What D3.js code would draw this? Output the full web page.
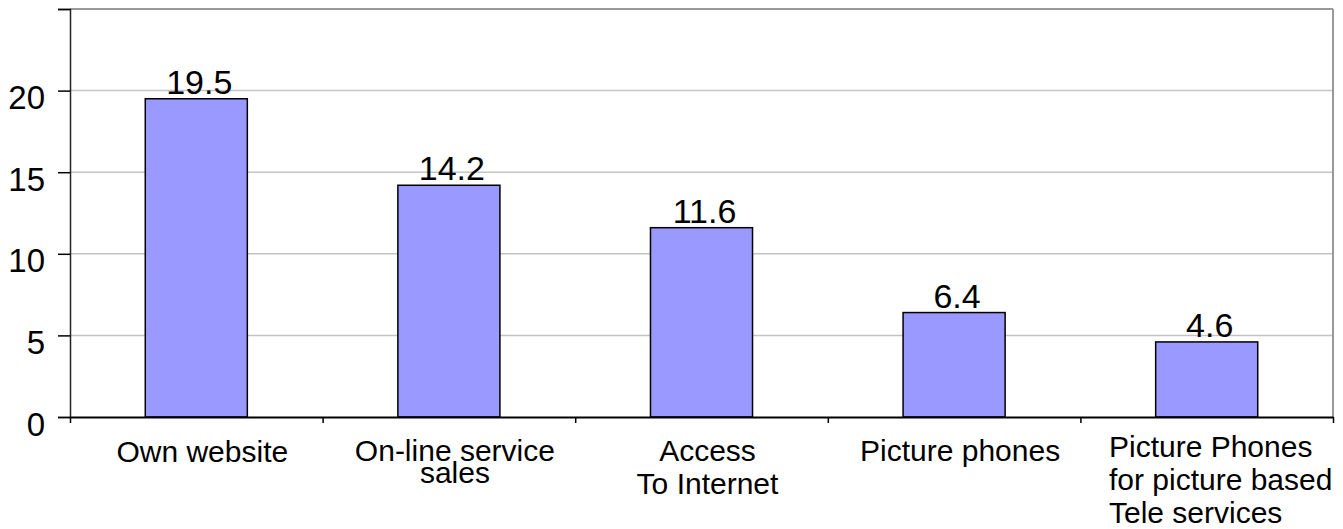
<!DOCTYPE html>
<html>
<head>
<meta charset="utf-8">
<script src="https://cdn.jsdelivr.net/npm/d3@7"></script>
<style>
  html, body { margin: 0; padding: 0; background: #fff; }
  svg { display: block; font-family: "Liberation Sans", Arial, sans-serif; }
</style>
</head>
<body>
<div id="chart"></div>
<script>
// data
const categories = ['Own website', 'On-line service sales', 'Access To Internet', 'Picture phones', 'Picture Phones for picture based Tele services'];
const labelLines = [
    ['Own website'],
    ['On-line service', 'sales'],
    ['Access', 'To Internet'],
    ['Picture phones'],
    ['Picture Phones', 'for picture based', 'Tele services']
];
const values = [19.5, 14.2, 11.6, 6.4, 4.6];
const yTicks = [0, 5, 10, 15, 20, 25];
const yGrid = [5, 10, 15, 20];

// label layout (the original spacing is uneven)
const labelFirstBaseline = [462, 461, 461, 461, 457];
const labelLineGap = [33, 22, 33, 33, 33];
const labelAlign = ['middle', 'middle', 'middle', 'middle', 'start'];

(function() {
    const width = 1343;
    const height = 529;
    const plot = {left: 70, right: 1333, top: 9, bottom: 417};

    const svg = d3.select('#chart')
        .append('svg')
        .attr('width', width)
        .attr('height', height);

    const x = d3.scaleBand()
        .domain(categories)
        .range([plot.left, plot.right])
        .paddingInner(0.596)
        .paddingOuter(0.298);

    const xEdge = d3.scaleLinear()
        .domain([0, categories.length])
        .range([plot.left, plot.right]);

    const y = d3.scaleLinear()
        .domain([0, 25])
        .range([plot.bottom, plot.top]);

    // gridlines
    svg.append('g')
        .selectAll('line')
        .data(yGrid)
        .enter()
        .append('line')
        .attr('x1', plot.left)
        .attr('x2', plot.right)
        .attr('y1', d => y(d))
        .attr('y2', d => y(d))
        .attr('stroke', '#c4c4c4')
        .attr('stroke-width', 1.5);

    // top and right frame
    svg.append('line')
        .attr('x1', plot.left).attr('x2', plot.right)
        .attr('y1', y(25)).attr('y2', y(25))
        .attr('stroke', '#999').attr('stroke-width', 2);
    svg.append('line')
        .attr('x1', plot.right).attr('x2', plot.right)
        .attr('y1', y(25)).attr('y2', y(0))
        .attr('stroke', '#999').attr('stroke-width', 2);

    // bars
    svg.selectAll('.bar')
        .data(values)
        .enter()
        .append('rect')
        .attr('class', 'bar')
        .attr('x', (d, i) => x(categories[i]))
        .attr('y', d => y(d))
        .attr('width', x.bandwidth())
        .attr('height', d => y(0) - y(d))
        .attr('fill', '#9999ff')
        .attr('stroke', '#000')
        .attr('stroke-width', 1.5);

    // value labels
    svg.selectAll('.value')
        .data(values)
        .enter()
        .append('text')
        .attr('class', 'value')
        .attr('x', (d, i) => x(categories[i]) + x.bandwidth() / 2 + 3)
        .attr('y', d => y(d) - 5)
        .attr('text-anchor', 'middle')
        .attr('font-size', '34px')
        .attr('fill', '#000')
        .text(d => d.toFixed(1));

    // y axis
    const yAxis = svg.append('g')
        .attr('transform', `translate(${plot.left},0)`)
        .call(d3.axisLeft(y)
            .tickValues(yTicks)
            .tickSize(12)
            .tickPadding(13)
            .tickFormat(d => d === 25 ? '' : d));
    yAxis.select('.domain').attr('stroke', '#222').attr('stroke-width', 1.5);
    yAxis.selectAll('.tick line').attr('stroke', '#000').attr('stroke-width', 1.5);
    yAxis.selectAll('.tick text')
        .attr('font-size', '33px')
        .attr('font-family', '"Liberation Sans", Arial, sans-serif')
        .attr('fill', '#000')
        .attr('dy', '0.55em');

    // x axis: ticks at category boundaries
    const xAxis = svg.append('g')
        .attr('transform', `translate(0,${plot.bottom})`)
        .call(d3.axisBottom(xEdge)
            .tickValues(d3.range(categories.length + 1))
            .tickSize(6)
            .tickSizeOuter(0)
            .tickFormat(''));
    xAxis.select('.domain').attr('stroke', '#000').attr('stroke-width', 2);
    xAxis.selectAll('.tick line').attr('stroke', '#000').attr('stroke-width', 1.5);

    // category labels
    labelLines.forEach((lines, i) => {
        const cx = x(categories[i]) + x.bandwidth() / 2 + 6;
        const t = svg.append('text')
            .attr('font-size', '30px')
            .attr('fill', '#000')
            .attr('text-anchor', labelAlign[i]);
        lines.forEach((line, j) => {
            t.append('tspan')
                .attr('x', cx)
                .attr('y', labelFirstBaseline[i] + j * labelLineGap[i])
                .text(line);
        });
        if (labelAlign[i] === 'start') {
            // left-aligned block, centred as a whole
            const w = d3.max(t.selectAll('tspan').nodes(), n => n.getComputedTextLength());
            t.selectAll('tspan').attr('x', cx - w / 2 + 8);
        }
    });
})();
</script>
</body>
</html>
